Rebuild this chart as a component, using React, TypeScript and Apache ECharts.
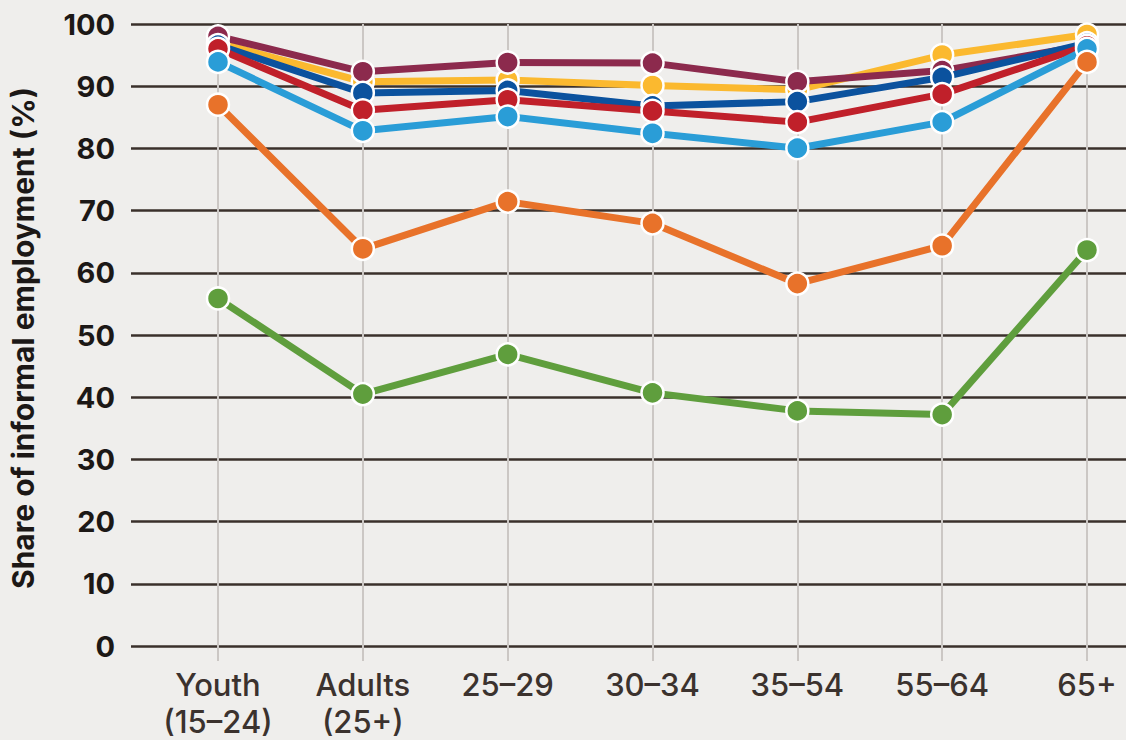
import React, { useEffect, useRef } from "react";
import * as echarts from "echarts";

const categories = ["Youth\n(15–24)", "Adults\n(25+)", "25–29", "30–34", "35–54", "55–64", "65+"];
const yTicks = [0, 100, 10];

const seriesNames = ["Series A", "Series B", "Series C", "Series D", "Series E", "Series F", "Series G"];
const seriesColors = ["#fbb92f", "#8c2a4d", "#0b529e", "#c0202a", "#2a9dd7", "#e8722a", "#5f9e3d"];
const yellowValues = [97.0, 90.7, 91.0, 90.1, 89.4, 95.0, 98.3];
const maroonValues = [98.0, 92.3, 93.8, 93.7, 90.7, 92.5, 96.6];
const darkBlueValues = [96.6, 88.9, 89.3, 86.8, 87.5, 91.4, 96.9];
const redValues = [96.0, 86.1, 87.8, 86.0, 84.2, 88.7, 96.5];
const lightBlueValues = [93.9, 82.8, 85.1, 82.4, 80.0, 84.2, 96.0];
const orangeValues = [87.0, 63.8, 71.4, 67.9, 58.2, 64.3, 93.9];
const greenValues = [55.8, 40.4, 46.8, 40.6, 37.7, 37.1, 63.6];
const allValues = [yellowValues, maroonValues, darkBlueValues, redValues, lightBlueValues, orangeValues, greenValues];

export default function App() {
  const ref = useRef<HTMLDivElement>(null);
  useEffect(() => {
    if (!ref.current) return;
    const chart = echarts.init(ref.current, null, { renderer: "svg" });
    const top = 24;
    const bottom = 94;
    chart.setOption({
      animation: false,
      backgroundColor: "#efeeec",
      grid: [
        { left: 131, right: 0, top, bottom },
        { left: 218, right: 39, top, bottom },
      ],
      xAxis: [
        { type: "value", gridIndex: 0, show: false },
        {
          type: "category",
          gridIndex: 1,
          data: categories,
          boundaryGap: false,
          axisLine: { show: false },
          axisTick: { show: true, length: 16, lineStyle: { color: "#cbc7c4", width: 2 } },
          splitLine: { show: true, lineStyle: { color: "#cbc7c4", width: 2 } },
          axisLabel: {
            margin: 21,
            color: "#3b322e",
            fontFamily: "Inter",
            fontWeight: 500,
            fontSize: 31,
            lineHeight: 37,
            interval: 0,
          },
        },
      ],
      yAxis: [
        {
          type: "value",
          gridIndex: 0,
          min: yTicks[0],
          max: yTicks[1],
          interval: yTicks[2],
          axisLine: { show: false },
          axisTick: { show: false },
          splitLine: { show: true, lineStyle: { color: "#3a302b", width: 2.5 } },
          axisLabel: {
            margin: 16,
            color: "#1c1816",
            fontFamily: "Inter",
            fontWeight: "bold",
            fontSize: 29,
          },
        },
        { type: "value", gridIndex: 1, min: yTicks[0], max: yTicks[1], show: false },
      ],
      graphic: [
        {
          type: "text",
          x: 23,
          y: 338,
          rotation: Math.PI / 2,
          style: {
            text: "Share of informal employment (%)",
            fill: "#1c1816",
            font: "bold 30px Inter",
            textAlign: "center",
            textVerticalAlign: "middle",
          },
        },
      ],
      series: allValues.map((vals, i) => ({
        name: seriesNames[i],
        type: "line",
        xAxisIndex: 1,
        yAxisIndex: 1,
        data: vals,
        symbol: "circle",
        symbolSize: 22,
        lineStyle: { color: seriesColors[i], width: 7 },
        itemStyle: { color: seriesColors[i], borderColor: "#ffffff", borderWidth: 2.5 },
        z: 3 + i,
      })),
    });
    return () => chart.dispose();
  }, []);
  return <div ref={ref} style={{ width: 1126, height: 740, position: "fixed", left: 0, top: 0 }} />;
}
